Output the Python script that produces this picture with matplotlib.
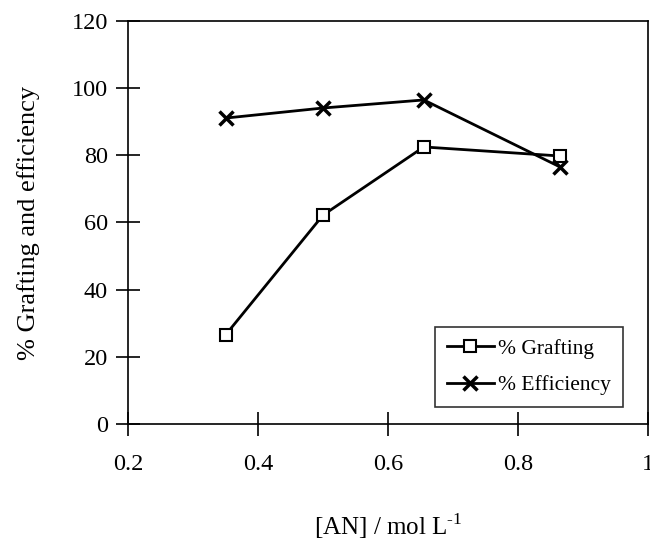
import matplotlib
matplotlib.use("Agg")
import matplotlib.pyplot as plt

# data
an_conc = [0.35, 0.50, 0.655, 0.865]
grafting = [26.5, 62.2, 82.5, 79.8]
efficiency = [91.1, 94.1, 96.5, 76.5]

plt.rcParams["font.family"] = ["Liberation Serif", "DejaVu Serif"]
plt.rcParams["mathtext.fontset"] = "custom"
plt.rcParams["mathtext.rm"] = "Liberation Serif"

fig = plt.figure(figsize=(6.5, 5.4), dpi=100)
ax = fig.add_axes([0.197, 0.215, 0.8, 0.746])

ax.plot(an_conc, grafting, color="black", lw=2, marker="s", ms=9,
        mfc="white", mec="black", mew=1.5, label="% Grafting")
ax.plot(an_conc, efficiency, color="black", lw=2, marker="x", ms=10,
        mew=2.5, label="% Efficiency")

ax.set_xlim(0.2, 1.0)
ax.set_ylim(0, 120)
ax.set_xticks([0.2, 0.4, 0.6, 0.8, 1.0])
ax.set_xticklabels(["0.2", "0.4", "0.6", "0.8", "1"])
ax.set_yticks(range(0, 121, 20))
ax.tick_params(direction="inout", length=17, width=1.2, labelsize=17.5)
ax.tick_params(axis="y", pad=6)
ax.tick_params(axis="x", pad=13)
for s in ax.spines.values():
    s.set_linewidth(1.2)

ax.set_ylabel("% Grafting and efficiency", fontsize=19, labelpad=23)
ax.set_xlabel("[AN] / mol L$^{\u2010 1}$", fontsize=18, labelpad=26)

leg = ax.legend(loc="lower right", bbox_to_anchor=(0.952, 0.042), borderaxespad=0,
                fontsize=15.5, frameon=True, fancybox=False, edgecolor="black",
                handlelength=2.2, handletextpad=0.2, borderpad=0.55,
                labelspacing=0.75)
leg.get_frame().set_linewidth(1.2)

fig.savefig("out.png", dpi=100)
